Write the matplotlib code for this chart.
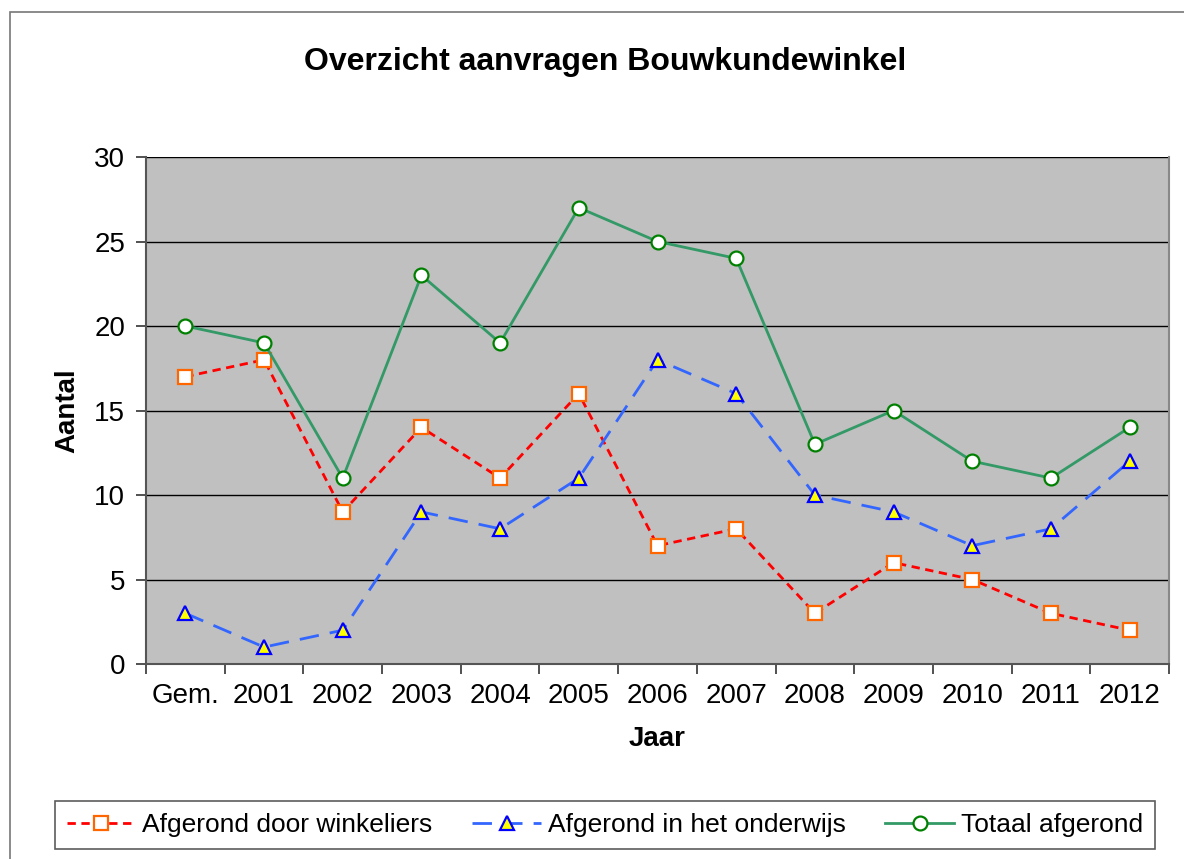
import matplotlib
matplotlib.use("Agg")
import matplotlib.pyplot as plt
import numpy as np
from matplotlib.patches import Rectangle

plt.rcParams['font.family'] = ['Liberation Sans', 'DejaVu Sans']

jaren = ["Gem.", "2001", "2002", "2003", "2004", "2005", "2006",
         "2007", "2008", "2009", "2010", "2011", "2012"]
winkeliers = [17, 18, 9, 14, 11, 16, 7, 8, 3, 6, 5, 3, 2]
onderwijs = [3, 1, 2, 9, 8, 11, 18, 16, 10, 9, 7, 8, 12]
totaal = [20, 19, 11, 23, 19, 27, 25, 24, 13, 15, 12, 11, 14]

W, H = 1184, 859
fig = plt.figure(figsize=(W / 100, H / 100), dpi=100)
ax = fig.add_axes([146 / W, 1 - 664 / H, (1169 - 146) / W, (664 - 157) / H])

# buitenrand van de grafiek
fig.patches.append(Rectangle((10 / W, -0.1), 1.2, 1 - 12 / H + 0.1,
                             transform=fig.transFigure, fill=False,
                             edgecolor="#777777", linewidth=1.2))

x = np.arange(len(jaren))
ax.set_facecolor("#C0C0C0")
ax.set_axisbelow(True)
ax.yaxis.grid(True, color="black", linewidth=1.0)

ax.plot(x, winkeliers, color="#FF0000", linewidth=2, dashes=(3, 2),
        marker="s", markersize=10, markerfacecolor="white",
        markeredgecolor="#FF6600", markeredgewidth=1.6,
        label="Afgerond door winkeliers")
ax.plot(x, onderwijs, color="#3366FF", linewidth=2, dashes=(7, 4),
        marker="^", markersize=10, markerfacecolor="#FFFF00",
        markeredgecolor="#0000FF", markeredgewidth=1.6,
        label="Afgerond in het onderwijs")
ax.plot(x, totaal, color="#339966", linewidth=2,
        marker="o", markersize=10, markerfacecolor="white",
        markeredgecolor="#008000", markeredgewidth=1.6,
        label="Totaal afgerond")

ax.set_xlim(-0.5, len(jaren) - 0.5)
ax.set_ylim(0, 30)
ax.set_yticks(range(0, 31, 5))
ax.set_xticks(x)
ax.set_xticklabels(jaren)
ax.set_xticks(np.arange(-0.5, len(jaren), 1), minor=True)
ax.tick_params(axis="x", which="major", length=0, pad=14, labelsize=20)
ax.tick_params(axis="x", which="minor", length=7, width=1.2, direction="out", color="#333333")
ax.tick_params(axis="y", length=7, width=1.2, direction="out", color="#333333",
               labelsize=20, pad=8)

for side in ["left", "bottom", "right"]:
    ax.spines[side].set_color("#555555")
    ax.spines[side].set_linewidth(1.5)
ax.spines["top"].set_visible(False)
ax.spines["right"].set_color("#888888")

ax.set_xlabel("Jaar", fontsize=20, fontweight="bold", labelpad=12)
ax.set_ylabel("Aantal", fontsize=20, fontweight="bold", labelpad=10)
fig.text(605 / W, 1 - 62 / H, "Overzicht aanvragen Bouwkundewinkel",
         ha="center", va="center", fontsize=23, fontweight="bold")

leg = fig.legend(loc="center", bbox_to_anchor=(605 / W, 1 - 825 / H), ncol=3,
                 fontsize=19, frameon=True, fancybox=False, edgecolor="#333333",
                 handlelength=2.6, handletextpad=0.27, columnspacing=1.5,
                 borderpad=0.45, borderaxespad=0)
leg.get_frame().set_linewidth(1.2)

fig.savefig("out.png", dpi=100)
